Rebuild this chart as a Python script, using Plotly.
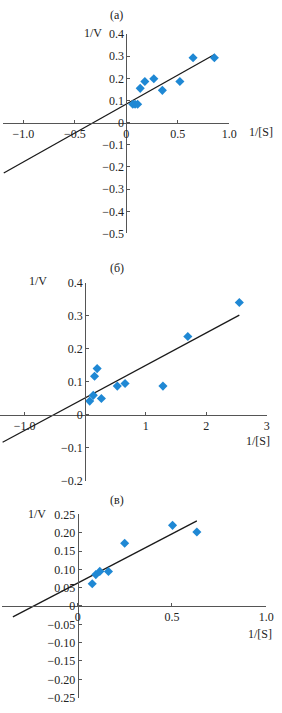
import plotly.graph_objects as go

M = "\u2212"

# ---------------- data ----------------
# panel (а)
a_x = [0.063, 0.085, 0.11, 0.135, 0.18, 0.267, 0.35, 0.52, 0.648, 0.855]
a_y = [0.083, 0.083, 0.083, 0.155, 0.186, 0.198, 0.146, 0.186, 0.293, 0.293]
a_slope, a_icpt = 0.2615, 0.084
a_fit_x = [-1.19, 0.86]
a_xticks = [-1.0, -0.5, 0, 0.5, 1.0]
a_xlabels = [M + "1.0", M + "0.5", "0", "0.5", "1.0"]
a_yticks = [0.4, 0.3, 0.2, 0.1, 0, -0.1, -0.2, -0.3, -0.4, -0.5]
a_ylabels = ["0.4", "0.3", "0.2", "0.1", "0", M + "0.1", M + "0.2", M + "0.3", M + "0.4", M + "0.5"]

# panel (б)
b_x = [0.074, 0.133, 0.154, 0.197, 0.267, 0.53, 0.658, 1.284, 1.695, 2.546]
b_y = [0.0415, 0.059, 0.117, 0.140, 0.0495, 0.087, 0.095, 0.087, 0.237, 0.340]
b_slope, b_icpt = 0.0984, 0.0514
b_fit_x = [-1.365, 2.546]
b_xticks = [-1.0, 1, 2, 3]
b_xlabels = [M + "1.0", "1", "2", "3"]
b_yticks = [0.4, 0.3, 0.2, 0.1, 0, -0.1, -0.2]
b_ylabels = ["0.4", "0.3", "0.2", "0.1", "0", M + "0.1", M + "0.2"]

# panel (в)
c_x = [0.077, 0.096, 0.117, 0.163, 0.249, 0.503, 0.632]
c_y = [0.0607, 0.0856, 0.0944, 0.094, 0.171, 0.220, 0.202]
c_slope, c_icpt = 0.268, 0.0626
c_fit_x = [-0.344, 0.632]
c_xticks = [0, 0.5, 1.0]
c_xlabels = ["0", "0.5", "1.0"]
c_yticks = [0.25, 0.20, 0.15, 0.10, 0.05, 0, -0.05, -0.10, -0.15, -0.20, -0.25]
c_ylabels = ["0.25", "0.20", "0.15", "0.10", "0.05", "0", M + "0.05", M + "0.10",
             M + "0.15", M + "0.20", M + "0.25"]

# ---------------- layout ----------------
W, H = 282, 713
FONT = "Liberation Serif"
FS = 12
TXT = "#222222"
AX = "#555555"
BLUE = "#1f88d4"

panels = [
    dict(x=a_x, y=a_y, slope=a_slope, icpt=a_icpt, fx=a_fit_x,
         xr=[-1.2, 1.0], yr=[-0.5, 0.4], px=(2.8, 236), py=(27.6, 231),
         xt=a_xticks, xl=a_xlabels, yt=a_yticks, yl=a_ylabels,
         title="(а)", tpos=(120, 8), vpos=(96, 27), spos=(269, 127)),
    dict(x=b_x, y=b_y, slope=b_slope, icpt=b_icpt, fx=b_fit_x,
         xr=[-1.4, 3.0], yr=[-0.2, 0.4], px=(0.5, 274.6), py=(281.2, 483.4),
         xt=b_xticks, xl=b_xlabels, yt=b_yticks, yl=b_ylabels,
         title="(б)", tpos=(120, 266), vpos=(39, 279), spos=(266, 443)),
    dict(x=c_x, y=c_y, slope=c_slope, icpt=c_icpt, fx=c_fit_x,
         xr=[-0.4, 1.0], yr=[-0.25, 0.25], px=(2.4, 274), py=(517.5, 704.5),
         xt=c_xticks, xl=c_xlabels, yt=c_yticks, yl=c_ylabels,
         title="(в)", tpos=(120, 503), vpos=(38, 517), spos=(268, 640)),
]

fig = go.Figure()
layout = dict(width=W, height=H, margin=dict(l=0, r=0, t=0, b=0),
              paper_bgcolor="white", plot_bgcolor="white", showlegend=False,
              font=dict(family=FONT, size=FS, color=TXT))
annotations = []

for i, p in enumerate(panels):
    n = "" if i == 0 else str(i + 1)
    xd = [p["px"][0] / W, p["px"][1] / W]
    yd = [1 - p["py"][1] / H, 1 - p["py"][0] / H]
    x0frac = xd[0] + (0 - p["xr"][0]) / (p["xr"][1] - p["xr"][0]) * (xd[1] - xd[0])
    y0frac = yd[0] + (0 - p["yr"][0]) / (p["yr"][1] - p["yr"][0]) * (yd[1] - yd[0])

    fit_y = [p["slope"] * v + p["icpt"] for v in p["fx"]]
    fig.add_trace(go.Scatter(x=p["fx"], y=fit_y, mode="lines",
                             line=dict(color="#1a1a1a", width=1.3),
                             xaxis="x" + n, yaxis="y" + n, hoverinfo="skip"))
    fig.add_trace(go.Scatter(x=p["x"], y=p["y"], mode="markers",
                             marker=dict(symbol="diamond", size=7, color=BLUE),
                             xaxis="x" + n, yaxis="y" + n))

    common = dict(showgrid=False, zeroline=False, showline=True, linecolor=AX,
                  linewidth=1, ticks="inside", ticklen=3, tickwidth=1, tickcolor=AX,
                  tickfont=dict(family=FONT, size=FS, color=TXT), fixedrange=True)
    layout["xaxis" + n] = dict(common, domain=xd, range=p["xr"], anchor="free",
                               position=y0frac, side="bottom",
                               tickmode="array", tickvals=p["xt"], ticktext=p["xl"])
    layout["yaxis" + n] = dict(common, domain=yd, range=p["yr"], anchor="free",
                               position=x0frac, side="left",
                               tickmode="array", tickvals=p["yt"], ticktext=p["yl"])

    for text, (tx, ty) in [(p["title"], p["tpos"]), ("1/V", p["vpos"]), ("1/[S]", p["spos"])]:
        annotations.append(dict(text=text, x=tx / W, y=1 - ty / H, xref="paper",
                                yref="paper", showarrow=False, xanchor="center",
                                yanchor="middle",
                                font=dict(family=FONT, size=FS, color=TXT)))

layout["annotations"] = annotations
fig.update_layout(**layout)
fig.write_html("out.html")
